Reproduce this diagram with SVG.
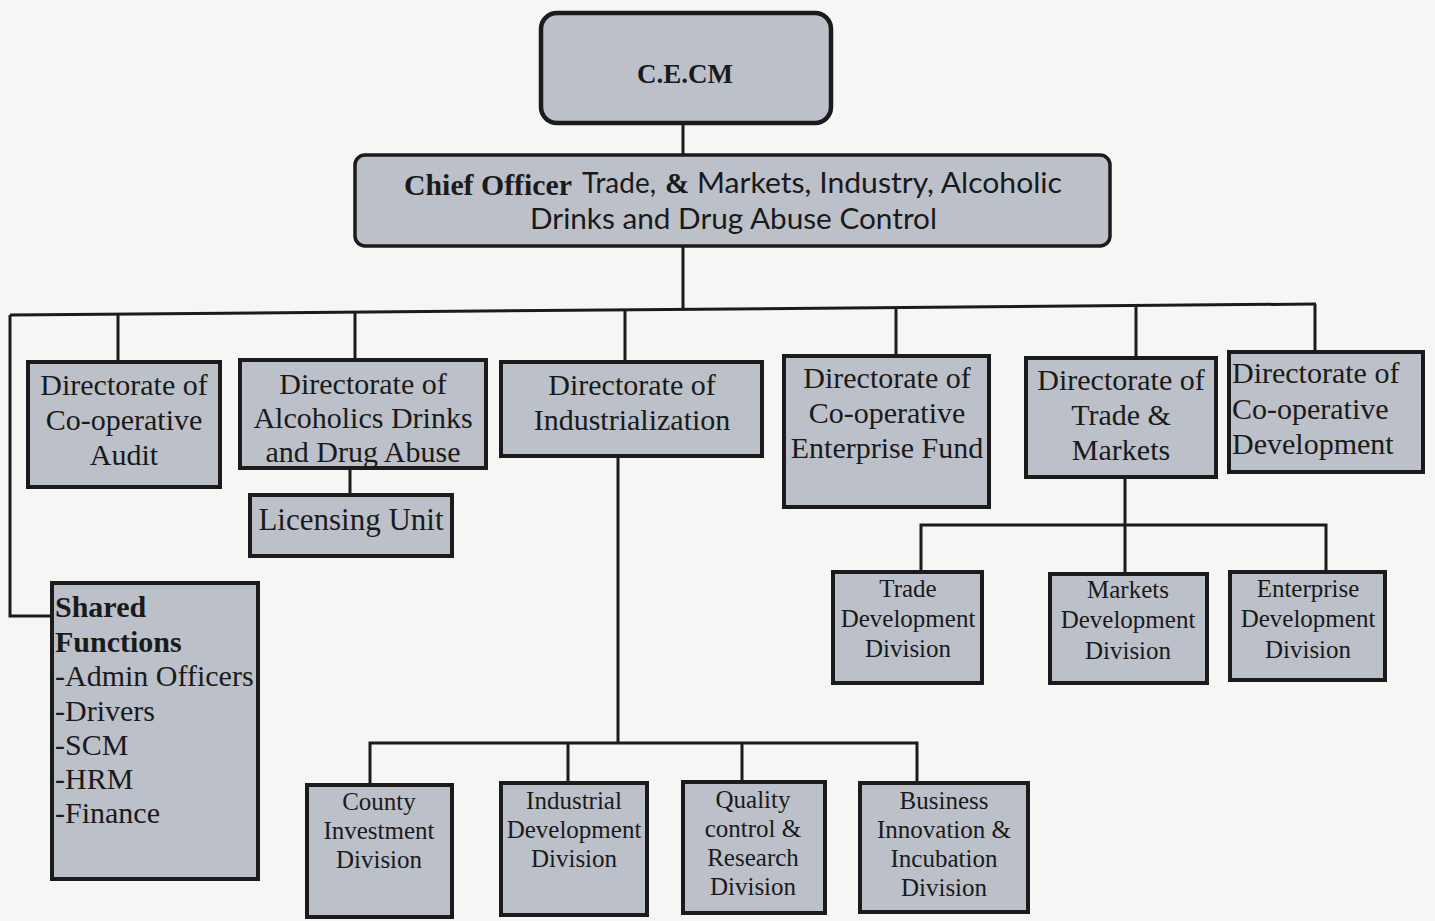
<svg xmlns="http://www.w3.org/2000/svg" width="1435" height="921" viewBox="0 0 1435 921">
<style>
.bg{fill:#f6f6f5}
.box{fill:#bcc0c9;stroke:#1b1b1b;stroke-width:4}
.rbox{fill:#bcc0c9;stroke:#1b1b1b;stroke-width:4.5}
.ln{fill:none;stroke:#1b1b1b;stroke-width:3}
.t{font-family:"Liberation Serif","Times New Roman",serif;font-size:30px;fill:#1a1a1a;text-anchor:middle}
.tl{font-family:"Liberation Serif","Times New Roman",serif;font-size:30px;fill:#1a1a1a}
.ts{font-family:"Liberation Serif","Times New Roman",serif;font-size:25px;fill:#1a1a1a;text-anchor:middle}
.b{font-weight:bold}
.sans{font-family:Lato,"Open Sans","DejaVu Sans",sans-serif;font-size:28px;fill:#1a1a1a}
</style>
<rect class="bg" x="0" y="0" width="1435" height="921"/>
<g id="connectors">
<line class="ln" x1="683" y1="123" x2="683" y2="155"/>
<line class="ln" x1="683" y1="246" x2="683" y2="309"/>
<polyline class="ln" points="10,315 1316,304"/>
<polyline class="ln" points="10,315 10,616 53,616"/>
<line class="ln" x1="118" y1="314" x2="118" y2="362"/>
<line class="ln" x1="355" y1="312" x2="355" y2="360"/>
<line class="ln" x1="625" y1="310" x2="625" y2="362"/>
<line class="ln" x1="896" y1="307" x2="896" y2="356"/>
<line class="ln" x1="1136" y1="305" x2="1136" y2="358"/>
<line class="ln" x1="1315" y1="304" x2="1315" y2="352"/>
<line class="ln" x1="350" y1="468" x2="350" y2="495"/>
<line class="ln" x1="618" y1="456" x2="618" y2="743"/>
<polyline class="ln" points="370,785 370,743 917,743 917,783"/>
<line class="ln" x1="568" y1="743" x2="568" y2="783"/>
<line class="ln" x1="742" y1="743" x2="742" y2="782"/>
<line class="ln" x1="1125" y1="477" x2="1125" y2="574"/>
<polyline class="ln" points="921,572 921,525 1326,525 1326,572"/>
</g>
<g id="cecm">
<rect class="rbox" x="541" y="13" width="290" height="110" rx="16"/>
<text class="t b" x="685" y="83" font-size="27" style="font-size:27px">C.E.CM</text>
</g>
<g id="chief-officer">
<rect class="rbox" x="355" y="155" width="755" height="91" rx="10" style="stroke-width:3.5"/>
<text class="tl b" x="404" y="195" textLength="168" lengthAdjust="spacingAndGlyphs" style="font-size:29px">Chief Officer</text>
<text class="sans" x="582" y="193" textLength="74" lengthAdjust="spacingAndGlyphs">Trade,</text>
<text class="tl b" x="665" y="193" style="font-size:29px">&amp;</text>
<text class="sans" x="697" y="193" textLength="365" lengthAdjust="spacingAndGlyphs">Markets, Industry, Alcoholic</text>
<text class="sans" x="530" y="229" textLength="407" lengthAdjust="spacingAndGlyphs">Drinks and Drug Abuse Control</text>
</g>
<g id="dir-coop-audit">
<rect class="box" x="28" y="362" width="192" height="125"/>
<text class="t" x="124" y="395">Directorate of</text>
<text class="t" x="124" y="430">Co-operative</text>
<text class="t" x="124" y="465">Audit</text>
</g>
<g id="dir-alcoholics">
<rect class="box" x="240" y="360" width="246" height="108"/>
<text class="t" x="363" y="394">Directorate of</text>
<text class="t" x="363" y="428">Alcoholics Drinks</text>
<text class="t" x="363" y="462">and Drug Abuse</text>
</g>
<g id="licensing-unit">
<rect class="box" x="250" y="495" width="202" height="61"/>
<text class="t" x="351" y="530" style="font-size:31px">Licensing Unit</text>
</g>
<g id="dir-industrialization">
<rect class="box" x="501" y="362" width="261" height="94"/>
<text class="t" x="632" y="395">Directorate of</text>
<text class="t" x="632" y="430">Industrialization</text>
</g>
<g id="dir-enterprise-fund">
<rect class="box" x="784" y="356" width="205" height="151"/>
<text class="t" x="887" y="388">Directorate of</text>
<text class="t" x="887" y="423">Co-operative</text>
<text class="t" x="887" y="458">Enterprise Fund</text>
</g>
<g id="dir-trade-markets">
<rect class="box" x="1026" y="358" width="190" height="119"/>
<text class="t" x="1121" y="390">Directorate of</text>
<text class="t" x="1121" y="425">Trade &amp;</text>
<text class="t" x="1121" y="460">Markets</text>
</g>
<g id="dir-coop-development">
<rect class="box" x="1229" y="352" width="194" height="120"/>
<text class="t" x="1232" y="383" style="text-anchor:start">Directorate of</text>
<text class="t" x="1232" y="419" style="text-anchor:start">Co-operative</text>
<text class="t" x="1232" y="454" style="text-anchor:start">Development</text>
</g>
<g id="shared-functions">
<rect class="box" x="52" y="583" width="206" height="296"/>
<text class="tl b" x="55" y="617">Shared</text>
<text class="tl b" x="55" y="652">Functions</text>
<text class="tl" x="55" y="686">-Admin Officers</text>
<text class="tl" x="55" y="721">-Drivers</text>
<text class="tl" x="55" y="755">-SCM</text>
<text class="tl" x="55" y="789">-HRM</text>
<text class="tl" x="55" y="823">-Finance</text>
</g>
<g id="trade-dev">
<rect class="box" x="833" y="572" width="149" height="111"/>
<text class="ts" x="908" y="597">Trade</text>
<text class="ts" x="908" y="627">Development</text>
<text class="ts" x="908" y="657">Division</text>
</g>
<g id="markets-dev">
<rect class="box" x="1050" y="574" width="157" height="109"/>
<text class="ts" x="1128" y="598">Markets</text>
<text class="ts" x="1128" y="628">Development</text>
<text class="ts" x="1128" y="659">Division</text>
</g>
<g id="enterprise-dev">
<rect class="box" x="1230" y="572" width="155" height="108"/>
<text class="ts" x="1308" y="597">Enterprise</text>
<text class="ts" x="1308" y="627">Development</text>
<text class="ts" x="1308" y="658">Division</text>
</g>
<g id="county-investment">
<rect class="box" x="307" y="785" width="145" height="132"/>
<text class="ts" x="379" y="810">County</text>
<text class="ts" x="379" y="839">Investment</text>
<text class="ts" x="379" y="868">Division</text>
</g>
<g id="industrial-dev">
<rect class="box" x="501" y="783" width="146" height="132"/>
<text class="ts" x="574" y="809">Industrial</text>
<text class="ts" x="574" y="838">Development</text>
<text class="ts" x="574" y="867">Division</text>
</g>
<g id="quality-control">
<rect class="box" x="683" y="782" width="142" height="131"/>
<text class="ts" x="753" y="808">Quality</text>
<text class="ts" x="753" y="837">control &amp;</text>
<text class="ts" x="753" y="866">Research</text>
<text class="ts" x="753" y="895">Division</text>
</g>
<g id="business-innovation">
<rect class="box" x="860" y="783" width="168" height="129"/>
<text class="ts" x="944" y="809">Business</text>
<text class="ts" x="944" y="838">Innovation &amp;</text>
<text class="ts" x="944" y="867">Incubation</text>
<text class="ts" x="944" y="896">Division</text>
</g>
</svg>
